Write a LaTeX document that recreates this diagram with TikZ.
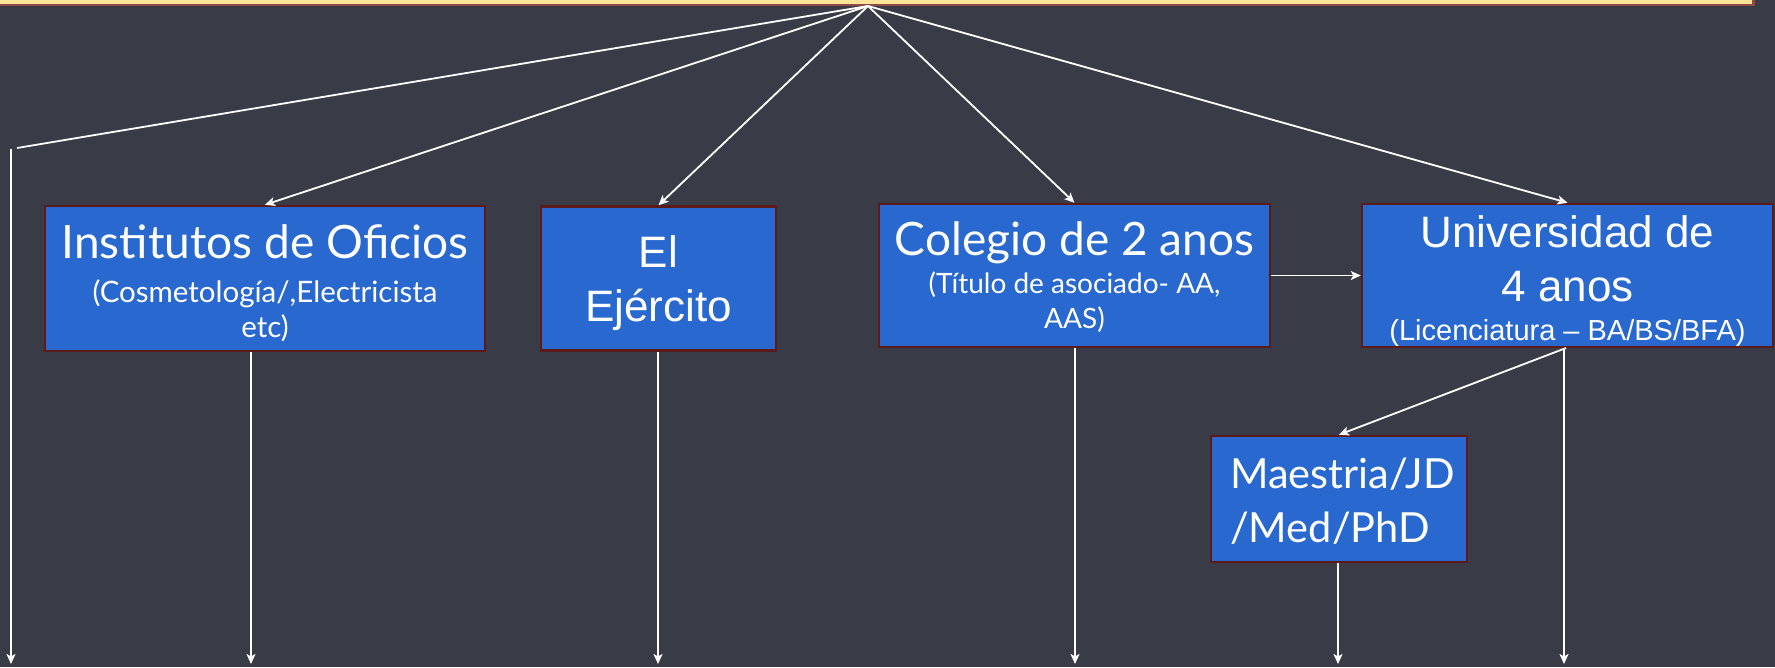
\documentclass[tikz,border=0pt]{standalone}
\usepackage{fontspec}
\usetikzlibrary{arrows.meta}
\newfontfamily\gill{Lato}
\newfontfamily\arialf{Liberation Sans}
\definecolor{bg}{RGB}{57,60,70}
\definecolor{boxblue}{RGB}{41,105,207}
\definecolor{boxedge}{RGB}{92,26,26}
\definecolor{baryellow}{RGB}{255,228,153}
\definecolor{baredge}{RGB}{142,74,69}
\tikzset{
  box/.style={draw=boxedge, fill=boxblue, line width=2.5pt, inner sep=0pt},
  txt/.style={text=white, anchor=base, inner sep=0pt},
  txtl/.style={text=white, anchor=base west, inner sep=0pt},
  conn/.style={draw=white, line width=1.8pt},
  arr/.style={conn, -{Stealth[length=10pt,width=9pt,inset=2.5pt]}},
}
\newcommand{\gbig}{\gill\fontsize{46}{50}\selectfont}
\newcommand{\gsmall}{\gill\fontsize{28}{32}\selectfont}
\newcommand{\ginst}{\gill\fontsize{29.5}{32}\selectfont}
\newcommand{\gmid}{\gill\fontsize{41.5}{45}\selectfont}
\newcommand{\abig}{\arialf\fontsize{44}{48}\selectfont}
\newcommand{\asmall}{\arialf\fontsize{29}{32}\selectfont}
\begin{document}
\begin{tikzpicture}[x=1pt,y=-1pt]
\fill[bg] (0,0) rectangle (1775,667);
\useasboundingbox (0,0) rectangle (1775,667);
% top bar
\fill[baredge] (-5,-5) rectangle (1754.5,6);
\fill[baryellow] (-5,-5) rectangle (1752,3.7);
\coordinate (apex) at (868,6);

% boxes
\node[box, minimum width=440pt, minimum height=145pt] (inst) at (265,278.5) {};
\node[txt] (inst1) at (265,258) {\gbig Institutos de Oficios};
\node[txt] (inst2) at (265,302) {\ginst (Cosmetología/,Electricista};
\node[txt] (inst3) at (265,337) {\ginst etc)};

\node[box, minimum width=235pt, minimum height=144pt] (ejer) at (658.5,278.5) {};
\node[txt] (ejer1) at (658.5,267) {\abig El};
\node[txt] (ejer2) at (658.5,321) {\abig Ejército};

\node[box, minimum width=391pt, minimum height=143pt] (col) at (1074.5,275.5) {};
\node[txt] (col1) at (1074.5,255) {\gbig Colegio de 2 anos};
\node[txt] (col2) at (1074.5,293) {\gsmall (Título de asociado- AA,};
\node[txt] (col3) at (1074.5,328) {\gsmall AAS)};

\node[box, minimum width=411pt, minimum height=143pt] (univ) at (1567.5,275.5) {};
\node[txt] (univ1) at (1567.5,247) {\abig Universidad de};
\node[txt] (univ2) at (1567.5,301) {\abig 4 anos};
\node[txt] (univ3) at (1567.5,340) {\asmall (Licenciatura – BA/BS/BFA)};

\node[box, minimum width=256pt, minimum height=126pt] (mae) at (1339,499) {};
\node[txtl] (mae1) at (1230,488) {\gmid Maestria/JD};
\node[txtl] (mae2) at (1230,542) {\gmid /Med/PhD};

% connectors from apex
\coordinate (lbend) at (17,148);
\draw[conn] (apex) -- (lbend);
\coordinate (l0) at (11,149);
\coordinate (l0e) at (11,664);
\draw[arr] (l0) -- (l0e);
\draw[arr] (apex) -- (inst.north);
\draw[arr] (apex) -- (ejer.north);
\draw[arr] (apex) -- (col.north);
\draw[arr] (apex) -- (univ.north);
\draw[arr] (col.east) -- (univ.west);

% bottom arrows
\coordinate (e1) at (251,664);
\coordinate (e2) at (658,664);
\coordinate (e3) at (1075,664);
\coordinate (e4) at (1338,664);
\coordinate (e5) at (1564,664);
\coordinate (us) at (1566,348);
\draw[arr] (e1 |- inst.south) -- (e1);
\draw[arr] (e2 |- ejer.south) -- (e2);
\draw[arr] (e3 |- col.south) -- (e3);
\draw[arr] (e4 |- mae.south) -- (e4);
\draw[arr] (e5 |- univ.south) -- (e5);
\draw[arr] (us) -- (mae.north);
\end{tikzpicture}
\end{document}
